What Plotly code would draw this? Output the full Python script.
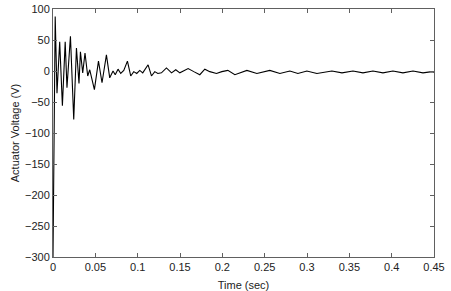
import plotly.graph_objects as go

# Time samples (sec) and actuator voltage (V)
time_sec = [0.0, 0.0026, 0.0047, 0.0079, 0.0111, 0.0144, 0.0165, 0.0206, 0.0245, 0.0277,
            0.0307, 0.0324, 0.0351, 0.0378, 0.0410, 0.0434, 0.0489, 0.0537, 0.0579, 0.0631,
            0.0670, 0.0709, 0.0735, 0.0768, 0.0800, 0.0836, 0.0879, 0.0918, 0.0954, 0.0989,
            0.1025, 0.1060, 0.1123, 0.1163, 0.1202, 0.1238, 0.1281, 0.1340, 0.1400, 0.1450,
            0.1498, 0.1596, 0.1663, 0.1734, 0.1793, 0.1852, 0.1931, 0.1994, 0.2065, 0.2148,
            0.2290, 0.2408, 0.2561, 0.2680, 0.2798, 0.2892, 0.2999, 0.3117, 0.3294, 0.3413,
            0.3543, 0.3661, 0.3779, 0.3897, 0.4015, 0.4133, 0.4252, 0.4370, 0.4476, 0.45]
voltage = [-300, 88, -36, 47, -56, 47, -27, 56, -78, 37,
           -20, 31, -3, 29, -8, 2, -30, 16, -19, 26,
           -11, 0, -6, 3, -4, 1, 16, -8, -1, -4,
           1, -3, 10, -8, -1, -4, -3, 5, -3, 2,
           -3, 4, -1, -6, 3, -1, -4, -1, 1, -6,
           1, -4, 1, -4, 0, -4, 0, -4, 0, -3,
           0, -3, 0, -3, 0, -3, 0, -3, -1, -2]

x_ticks = [0, 0.05, 0.1, 0.15, 0.2, 0.25, 0.3, 0.35, 0.4, 0.45]
x_labels = ["0", "0.05", "0.1", "0.15", "0.2", "0.25", "0.3", "0.35", "0.4", "0.45"]
y_ticks = [-300, -250, -200, -150, -100, -50, 0, 50, 100]

fig = go.Figure(go.Scatter(x=time_sec, y=voltage, mode="lines",
                           line=dict(color="black", width=1.1), showlegend=False))

axis_common = dict(showgrid=False, zeroline=False, showline=True, linecolor="#606060",
                   linewidth=1, mirror="allticks", ticks="inside", ticklen=4,
                   tickcolor="#606060", automargin=False,
                   tickfont=dict(size=11, color="#222"))

fig.update_layout(
    width=451, height=291,
    margin=dict(l=53, r=17, t=9, b=34),
    paper_bgcolor="white", plot_bgcolor="white",
    font=dict(family="Liberation Sans, Arial, sans-serif", size=11, color="#222"),
    xaxis=dict(range=[0, 0.45], tickvals=x_ticks, ticktext=x_labels,
               title=dict(text="Time (sec)", standoff=9, font=dict(size=11)), **axis_common),
    yaxis=dict(range=[-300, 100], tickvals=y_ticks,
               title=dict(text="Actuator Voltage (V)", standoff=3, font=dict(size=11)), **axis_common),
)

fig.write_html("out.html", config={"displayModeBar": False},
               post_script="document.body.style.margin='0';")
